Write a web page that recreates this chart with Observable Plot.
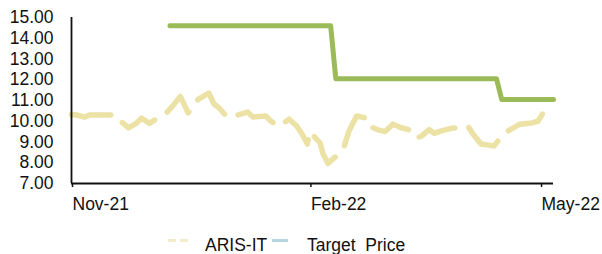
<!DOCTYPE html>
<html>
<head>
<meta charset="utf-8">
<script src="https://cdn.jsdelivr.net/npm/d3@7"></script>
<script src="https://cdn.jsdelivr.net/npm/@observablehq/plot@0.6"></script>
<style>
  html, body { margin: 0; padding: 0; background: #fff; overflow: hidden; }
  body { width: 602px; height: 254px; position: relative; font-family: "Liberation Sans", Arial, sans-serif; }
  #chart { position: absolute; left: 0; top: 0; }
  .lg-text { position: absolute; font-size: 17.5px; line-height: 17.5px; color: #111; white-space: nowrap; }
  .lg-sw { position: absolute; height: 3px; }
</style>
</head>
<body>
<div id="chart"></div>
<div class="lg-sw" style="left:168px; top:239px; width:20px; background: repeating-linear-gradient(90deg, #f3edcc 0 8px, transparent 8px 12px);"></div>
<div class="lg-text" style="left:205px; top:236.5px;">ARIS-IT</div>
<div class="lg-sw" style="left:272px; top:239px; width:16px; background:#b5d6e0;"></div>
<div class="lg-text" style="left:307px; top:236.5px;">Target&nbsp; Price</div>
<script>
// ---- data ----
const priceDates = [
  "2021-11-01","2021-11-03","2021-11-06","2021-11-08","2021-11-13","2021-11-18","2021-11-20",
  "2021-11-23","2021-11-26","2021-11-28","2021-12-01","2021-12-05","2021-12-08","2021-12-10",
  "2021-12-13","2021-12-16","2021-12-20","2021-12-24","2021-12-26","2021-12-28","2021-12-31",
  "2022-01-04","2022-01-08","2022-01-10","2022-01-15","2022-01-17","2022-01-20","2022-01-24",
  "2022-01-27","2022-01-29","2022-01-31","2022-02-01","2022-02-05","2022-02-06","2022-02-08",
  "2022-02-11","2022-02-14","2022-02-16","2022-02-19","2022-02-21","2022-02-23","2022-02-24",
  "2022-02-27","2022-03-02","2022-03-05","2022-03-08","2022-03-11","2022-03-14","2022-03-16",
  "2022-03-19","2022-03-21","2022-03-24","2022-03-28","2022-03-31","2022-04-03","2022-04-05",
  "2022-04-08","2022-04-11","2022-04-13","2022-04-16","2022-04-18","2022-04-23","2022-04-27",
  "2022-04-30","2022-05-02","2022-05-05","2022-05-06"
];
const priceValues = [
  10.33,10.30,10.20,10.30,10.30,10.30,10.00,
  9.68,9.90,10.15,9.90,10.20,10.45,10.73,
  11.20,10.40,11.07,11.36,10.83,10.64,10.20,
  10.30,10.44,10.20,10.25,10.00,9.76,10.10,
  9.76,9.37,8.90,9.50,8.94,8.45,7.97,
  8.30,8.70,9.50,10.25,10.20,10.15,9.76,
  9.60,9.50,9.86,9.70,9.60,9.18,9.28,
  9.60,9.42,9.55,9.67,9.67,9.76,9.37,
  8.90,8.85,8.80,9.28,9.50,9.86,9.90,
  10.00,10.40,10.50,10.33
];
const targetDates = ["2021-12-09","2022-02-09","2022-02-11","2022-04-14","2022-04-16","2022-05-06"];
const targetValues = [14.60,14.60,12.05,12.05,11.05,11.05];
const yTicks = [7,8,9,10,11,12,13,14,15];
const xTickDates = ["2021-11-01","2022-02-01","2022-05-01"];
const xTickLabels = ["Nov-21","Feb-22","May-22"];
const seriesNames = ["ARIS-IT","Target Price"];

const parse = d3.utcParse("%Y-%m-%d");
const price = priceDates.map((d, i) => ({date: parse(d), value: priceValues[i]}));
const target = targetDates.map((d, i) => ({date: parse(d), value: targetValues[i]}));
const xTicks = xTickDates.map(parse);
const labelOf = new Map(xTicks.map((d, i) => [+d, xTickLabels[i]]));
const x0 = parse("2021-11-01"), x1 = parse("2022-05-06");

const chart = Plot.plot({
  width: 602,
  height: 222,
  marginTop: 17,
  marginBottom: 39,
  marginLeft: 71,
  marginRight: 49,
  style: {fontFamily: "'Liberation Sans', Arial, sans-serif", fontSize: "17.5px", color: "#111", background: "#fff"},
  x: {type: "utc", domain: [x0, x1]},
  y: {domain: [7, 15]},
  marks: [
    Plot.axisY({ticks: yTicks, tickSize: 0, tickPadding: 18, tickFormat: d3.format(".2f"), label: null, fill: "#111"}),
    Plot.axisX({ticks: xTicks, tickSize: 4, tickPadding: 10, tickFormat: d => labelOf.get(+d), textAnchor: "start", dx: 1, label: null, stroke: "#111", strokeWidth: 1.5, fill: "#111"}),
    Plot.line(target, {x: "date", y: "value", stroke: "#9bbb59", strokeWidth: 5, strokeLinejoin: "round", curve: "linear"}),
    Plot.line(price, {x: "date", y: "value", stroke: "#ece2a5", strokeWidth: 5.5, strokeLinecap: "round", strokeLinejoin: "round", strokeDasharray: "40,15"}),
    Plot.ruleX([x0], {y1: 7, y2: 15, stroke: "#111", strokeWidth: 1.8}),
    Plot.ruleY([7], {x1: x0, x2: x1, stroke: "#111", strokeWidth: 1.8})
  ]
});
document.getElementById("chart").appendChild(chart);
</script>
</body>
</html>
